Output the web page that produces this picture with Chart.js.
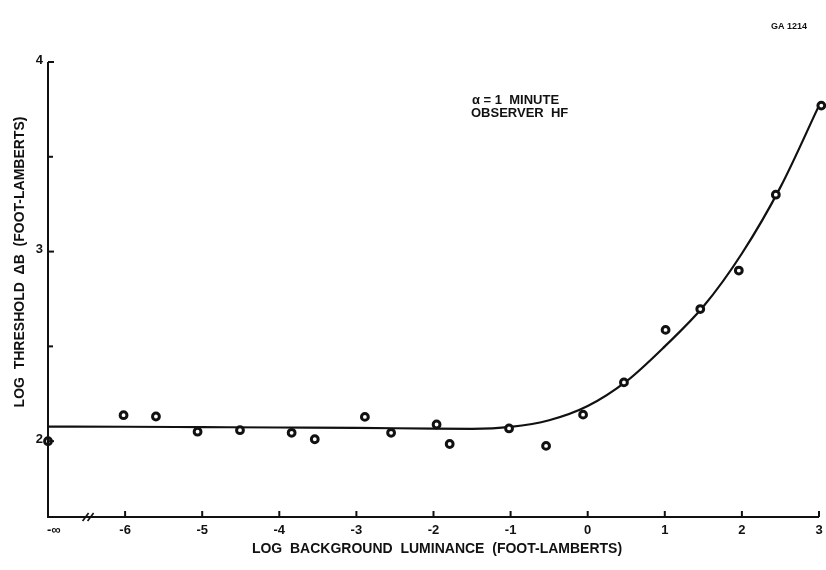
<!DOCTYPE html>
<html>
<head>
<meta charset="utf-8">
<script src="https://cdn.jsdelivr.net/npm/chart.js@4"></script>
<style>
  html, body { margin: 0; padding: 0; background: #fff; }
  #wrap { width: 826px; height: 570px; }
</style>
</head>
<body>
<div id="wrap"><canvas id="threshChart" width="826" height="570"></canvas></div>
<script>
// measured points: log background luminance vs log threshold
const pointX = [-7, -6.02, -5.6, -5.06, -4.51, -3.84, -3.54, -2.89, -2.55, -1.96, -1.79, -1.02, -0.54, -0.06, 0.47, 1.01, 1.46, 1.96, 2.44, 3.03];
const pointY = [2.0, 2.137, 2.13, 2.05, 2.058, 2.044, 2.01, 2.128, 2.044, 2.088, 1.985, 2.067, 1.975, 2.14, 2.31, 2.587, 2.697, 2.90, 3.30, 3.77];

// fitted curve
const curveX = [-7, -6, -5, -4, -3, -2, -1.5, -1, -0.5, 0, 0.5, 1, 1.5, 2, 2.5, 3];
const curveY = [2.077, 2.076, 2.074, 2.072, 2.07, 2.066, 2.065, 2.075, 2.11, 2.185, 2.315, 2.50, 2.71, 2.99, 3.34, 3.77];

const xTicks = [-6, -5, -4, -3, -2, -1, 0, 1, 2, 3];
const yTicks = [2, 3, 4];
const yMinorTicks = [2.5, 3.5];

const ink = '#111';
const boldFont = 'bold 13px "Liberation Sans", Arial, sans-serif';

// axes, ticks and labels drawn by hand to look like the old plate
const paperAxes = {
    id: 'paperAxes',
    afterDraw(chart) {
        const ctx = chart.ctx;
        const xs = chart.scales.x;
        const ys = chart.scales.y;
        const x0 = xs.getPixelForValue(-7);
        const y0 = ys.getPixelForValue(1.6);
        const yTop = ys.getPixelForValue(4);
        const xEnd = xs.getPixelForValue(3);

        ctx.save();
        ctx.strokeStyle = ink;
        ctx.fillStyle = ink;
        ctx.lineWidth = 2;

        // axis lines
        ctx.beginPath();
        ctx.moveTo(x0, yTop);
        ctx.lineTo(x0, y0);
        ctx.lineTo(xEnd, y0);
        ctx.stroke();

        // x ticks point up into the plot
        ctx.font = boldFont;
        ctx.textAlign = 'center';
        ctx.textBaseline = 'top';
        xTicks.forEach(v => {
            const px = xs.getPixelForValue(v);
            ctx.beginPath();
            ctx.moveTo(px, y0);
            ctx.lineTo(px, y0 - 6);
            ctx.stroke();
            ctx.fillText(v < 0 ? '-' + Math.abs(v) : String(v), px, y0 + 7);
        });
        ctx.textAlign = 'left';
        ctx.fillText('-\u221e', x0 - 1, y0 + 7);

        // axis break  //
        const bx = xs.getPixelForValue(-6.48);
        ctx.lineWidth = 1.6;
        [-2.5, 2.5].forEach(d => {
            ctx.beginPath();
            ctx.moveTo(bx + d - 3, y0 + 4);
            ctx.lineTo(bx + d + 3, y0 - 4);
            ctx.stroke();
        });

        // y ticks point right into the plot
        ctx.lineWidth = 2;
        ctx.textAlign = 'right';
        ctx.textBaseline = 'middle';
        yTicks.forEach(v => {
            const py = ys.getPixelForValue(v);
            ctx.beginPath();
            ctx.moveTo(x0, py);
            ctx.lineTo(x0 + 6, py);
            ctx.stroke();
            ctx.fillText(String(v), x0 - 5, py - 2);
        });
        yMinorTicks.forEach(v => {
            const py = ys.getPixelForValue(v);
            ctx.beginPath();
            ctx.moveTo(x0, py);
            ctx.lineTo(x0 + 5, py);
            ctx.stroke();
        });

        // axis titles
        ctx.textAlign = 'center';
        ctx.textBaseline = 'middle';
        ctx.font = 'bold 14px "Liberation Sans", Arial, sans-serif';
        ctx.fillText('LOG  BACKGROUND  LUMINANCE  (FOOT-LAMBERTS)', 437, 549);

        ctx.save();
        ctx.translate(20, 262);
        ctx.rotate(-Math.PI / 2);
        ctx.fillText('LOG  THRESHOLD  \u0394B  (FOOT-LAMBERTS)', 0, 0);
        ctx.restore();

        // note in the plot
        ctx.textAlign = 'left';
        ctx.font = 'bold 13px "Liberation Sans", Arial, sans-serif';
        ctx.fillText('\u03b1 = 1  MINUTE', 472, 100);
        ctx.fillText('OBSERVER  HF', 471, 113);

        // plate number
        ctx.font = 'bold 9px "Liberation Sans", Arial, sans-serif';
        ctx.fillText('GA 1214', 771, 27);
        ctx.restore();
    }
};

const chart = new Chart(document.getElementById('threshChart'), {
    type: 'scatter',
    data: {
        datasets: [
            {
                label: 'fit',
                data: curveX.map((x, i) => ({x: x, y: curveY[i]})),
                showLine: true,
                borderColor: ink,
                borderWidth: 2.2,
                pointRadius: 0,
                cubicInterpolationMode: 'monotone',
                clip: false,
                order: 2
            },
            {
                label: 'observer HF',
                data: pointX.map((x, i) => ({x: x, y: pointY[i]})),
                showLine: false,
                pointRadius: 3.4,
                pointBackgroundColor: '#fff',
                pointBorderColor: ink,
                pointBorderWidth: 3,
                clip: false,
                order: 1
            }
        ]
    },
    options: {
        responsive: false,
        animation: false,
        layout: {
            padding: {left: 48, right: 4, top: 62, bottom: 53}
        },
        scales: {
            x: {type: 'linear', min: -7, max: 3, display: false},
            y: {type: 'linear', min: 1.6, max: 4, display: false}
        },
        plugins: {
            legend: {display: false},
            tooltip: {enabled: false}
        }
    },
    plugins: [paperAxes]
});
</script>
</body>
</html>
